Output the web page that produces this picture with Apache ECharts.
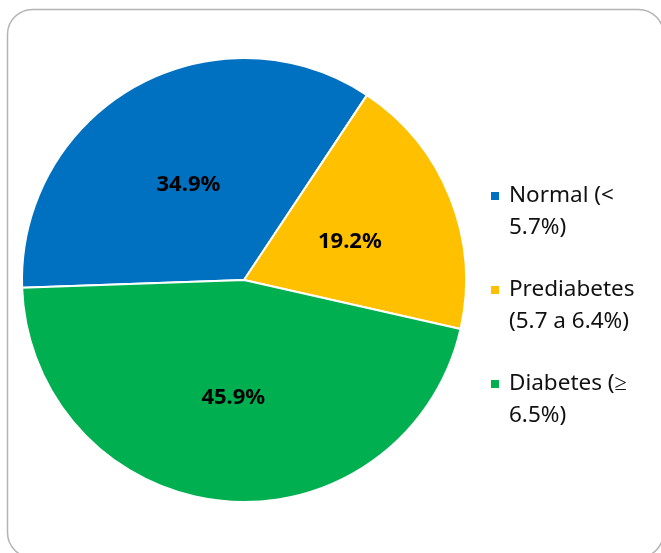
<!DOCTYPE html>
<html>
<head>
<meta charset="utf-8">
<script src="https://cdn.jsdelivr.net/npm/echarts@6/dist/echarts.min.js"></script>
<style>
  html, body { margin: 0; padding: 0; background: #fff; }
  #chart { width: 661px; height: 553px; }
</style>
</head>
<body>
<div id="chart"></div>
<script>
// slices, clockwise from the left
var categories = ["Normal (<\n5.7%)", "Prediabetes\n(5.7 a 6.4%)", "Diabetes (≥\n6.5%)"];
var values = [34.9, 19.2, 45.9];
var colors = ["#0070C0", "#FFC000", "#00B050"];
var legendTops = [148, 242, 336];

var chart = echarts.init(document.getElementById("chart"));

var txt = { fontFamily: "Noto Sans", fontSize: 22.5, lineHeight: 32, color: "#111", padding: [0, 0, 0, 4] };

var legends = categories.map(function (name, i) {
  return {
    data: [name],
    left: 489,
    top: legendTops[i],
    padding: 0,
    orient: "vertical",
    icon: "rect",
    itemWidth: 10,
    itemHeight: 10,
    selectedMode: false,
    // empty first line so the marker lines up with the first text line
    formatter: function (n) {
      return "{e| }\n" + n.split("\n").map(function (s) { return "{a|" + s + "}"; }).join("\n");
    },
    textStyle: {
      fontFamily: "Noto Sans",
      fontSize: 22.5,
      lineHeight: 32,
      color: "#111",
      rich: { a: txt, e: txt }
    }
  };
});

chart.setOption({
  animation: false,
  color: colors,
  graphic: [{
    type: "rect",
    shape: { x: 7.5, y: 9.5, width: 656, height: 548, r: 25 },
    style: { fill: "none", stroke: "#b4b4b4", lineWidth: 1.5 }
  }],
  legend: legends,
  series: [{
    type: "pie",
    center: [244, 280],
    radius: 222,
    startAngle: 182,
    clockwise: true,
    itemStyle: { borderColor: "#fff", borderWidth: 2 },
    label: {
      position: "inside",
      offset: [0, 4],
      formatter: function (p) { return p.value.toFixed(1) + "%"; },
      fontFamily: "Noto Sans",
      fontSize: 22,
      fontWeight: "bold",
      color: "#000"
    },
    labelLine: { show: false },
    emphasis: { disabled: true },
    data: categories.map(function (c, i) {
      return { name: c, value: values[i] };
    })
  }]
});
</script>
</body>
</html>
